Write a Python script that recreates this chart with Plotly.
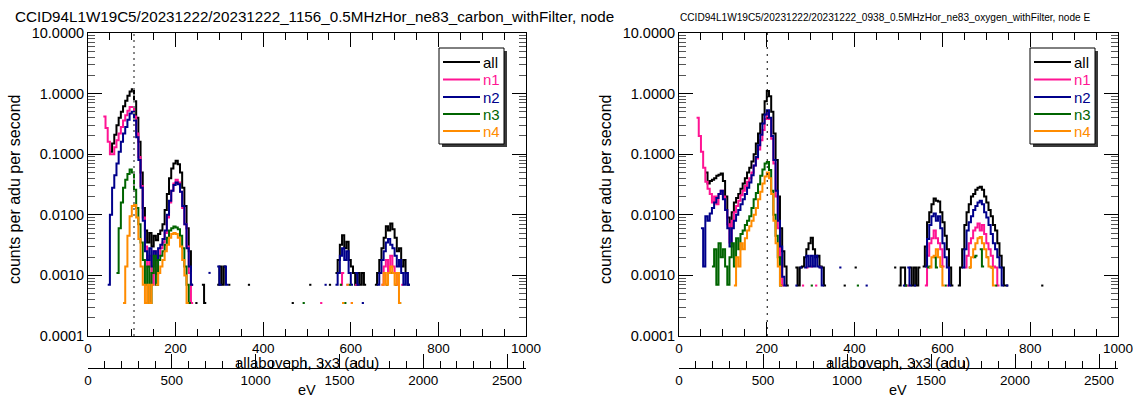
import plotly.graph_objects as go

W, H = 1133, 397
FONT = "Liberation Sans, Arial, Helvetica, sans-serif"

# ---------------- data ----------------
BIN = 5                 # histogram bin width (adu)
MAIN_START = 35         # left edge of first bin of the *_main arrays (adu)
EV_PER_ADU = 2.613      # gain used for the secondary eV axis
series_names = ["all", "n1", "n2", "n3", "n4"]
series_colors = ["#000000", "#ff1493", "#00008b", "#006400", "#ff8c00"]
ytick_vals = [1e-4, 1e-3, 1e-2, 1e-1, 1, 10]
ytick_text = ["0.0001", "0.0010", "0.0100", "0.1000", "1.0000", "10.0000"]
adu_ticks = [0, 200, 400, 600, 800, 1000]
ev_ticks = [0, 500, 1000, 1500, 2000, 2500]
carbon_line_adu = 105
oxygen_line_adu = 201

carbon_title = "CCID94L1W19C5/20231222/20231222_1156_0.5MHzHor_ne83_carbon_withFilter, node"
oxygen_title = "CCID94L1W19C5/20231222/20231222_0938_0.5MHzHor_ne83_oxygen_withFilter, node E"

# --- carbon (left panel), counts per adu per second, 45 bins from 35 adu ---
carbon_all_main = [0, 0, 0, 0.11, 0.15, 0.21, 0.30, 0.40, 0.50, 0.62, 0.76, 0.92, 1.08, 1.18,
                   0.75, 0.40, 0.16, 0.05, 0.013, 0.0055, 0.0035, 0.005, 0.003, 0.0045, 0.0038,
                   0.0048, 0.0055, 0.007, 0.012, 0.022, 0.04, 0.058, 0.07, 0.078, 0.068, 0.05,
                   0.028, 0.014, 0.006, 0.0025, 0.0007, 0, 0.00035, 0, 0]
carbon_n1_main = [0.42, 0.27, 0.16, 0.10, 0.10, 0.13, 0.17, 0.22, 0.28, 0.36, 0.44, 0.52, 0.60, 0.60,
                  0.42, 0.22, 0.09, 0.03, 0.009, 0.003, 0.0014, 0.0021, 0.0007, 0.0025, 0.00105,
                  0.0021, 0.0028, 0.0035, 0.005, 0.009, 0.016, 0.025, 0.033, 0.038, 0.034, 0.024,
                  0.013, 0.007, 0.003, 0.0011, 0.00035, 0, 0, 0, 0]
carbon_n2_main = [0, 0, 0.0007, 0.010, 0.028, 0.045, 0.07, 0.11, 0.16, 0.22, 0.28, 0.37, 0.47, 0.50,
                  0.36, 0.19, 0.08, 0.028, 0.008, 0.0025, 0.0018, 0.0028, 0.0014, 0.0025, 0.0018,
                  0.0028, 0.0032, 0.004, 0.0055, 0.010, 0.017, 0.025, 0.031, 0.034, 0.032, 0.024,
                  0.014, 0.007, 0.0028, 0.0014, 0.0007, 0, 0, 0, 0]
carbon_n3_main = [0, 0, 0, 0, 0, 0, 0.0011, 0.006, 0.016, 0.028, 0.038, 0.047, 0.056, 0.05, 0.026,
                  0.013, 0.007, 0.0035, 0.0018, 0.0007, 0.0014, 0.00035, 0.0011, 0.0021, 0.0007,
                  0.0018, 0.0021, 0.0025, 0.0032, 0.0042, 0.0055, 0.006, 0.0064, 0.0062, 0.0058,
                  0.0045, 0.0028, 0.0014, 0.0007, 0.00035, 0, 0, 0, 0, 0]
carbon_n4_main = [0, 0, 0, 0, 0, 0, 0, 0, 0, 0.00035, 0.0014, 0.0045, 0.0095, 0.014, 0.0145, 0.009,
                  0.004, 0.0014, 0.0007, 0.00035, 0.0007, 0.00035, 0.0007, 0, 0.0007, 0.0011,
                  0.0014, 0.0018, 0.0025, 0.0032, 0.0042, 0.0048, 0.005, 0.0048, 0.0042, 0.003,
                  0.0018, 0.001, 0.00035, 0, 0, 0, 0, 0, 0]

# sparse tails (bin centre adu, value)
carbon_all_tail_adu = [262.5, 267.5, 297.5, 302.5, 307.5, 312.5, 322.5, 367.5, 467.5, 507.5, 552.5,
                       567.5, 572.5, 577.5, 582.5, 587.5, 592.5, 597.5, 602.5, 607.5, 612.5, 617.5,
                       622.5, 627.5, 632.5, 657.5, 662.5, 667.5, 672.5, 677.5, 682.5, 687.5, 692.5,
                       697.5, 702.5, 707.5, 712.5, 717.5, 722.5, 727.5, 732.5]
carbon_all_tail_val = [0.0007, 0.00035, 0.0007, 0.0014, 0.0007, 0.0014, 0.0007, 0.0007, 0.00035,
                       0.0007, 0.0007, 0.0011, 0.0018, 0.0032, 0.0046, 0.0028, 0.0036, 0.0018,
                       0.0014, 0.0011, 0.0007, 0.0011, 0.0007, 0.0011, 0.0007, 0.0007, 0.0011,
                       0.0018, 0.0028, 0.0042, 0.0065, 0.0055, 0.0072, 0.0058, 0.0042, 0.0025,
                       0.0028, 0.0014, 0.0018, 0.0011, 0.0007]
carbon_n1_tail_adu = [532.5, 577.5, 582.5, 592.5, 602.5, 612.5, 672.5, 677.5, 682.5, 687.5, 692.5,
                      697.5, 702.5, 707.5, 717.5]
carbon_n1_tail_val = [0.00035, 0.0007, 0.0011, 0.0007, 0.00035, 0.0007, 0.0007, 0.0014, 0.0018,
                      0.0011, 0.0021, 0.0014, 0.0011, 0.0007, 0.0007]
carbon_n2_tail_adu = [277.5, 297.5, 302.5, 312.5, 317.5, 542.5, 567.5, 572.5, 577.5, 582.5, 587.5,
                      592.5, 597.5, 602.5, 612.5, 617.5, 627.5, 662.5, 667.5, 672.5, 677.5, 682.5,
                      687.5, 692.5, 697.5, 702.5, 707.5, 712.5, 717.5, 722.5, 727.5, 732.5]
carbon_n2_tail_val = [0.0011, 0.0014, 0.0007, 0.0014, 0.0007, 0.0007, 0.0007, 0.0011, 0.0021,
                      0.0028, 0.0018, 0.0025, 0.0011, 0.0007, 0.0011, 0.0007, 0.00035, 0.0007,
                      0.0011, 0.0018, 0.0025, 0.0035, 0.004, 0.0032, 0.0028, 0.0021, 0.0014,
                      0.0018, 0.0011, 0.0007, 0.0011, 0.0007]
carbon_n3_tail_adu = [492.5, 577.5, 587.5, 597.5, 682.5, 692.5, 702.5, 712.5]
carbon_n3_tail_val = [0.00035, 0.0007, 0.00035, 0.0007, 0.0007, 0.0011, 0.0007, 0.00035]
carbon_n4_tail_adu = [582.5, 592.5, 602.5, 672.5, 677.5, 682.5, 687.5, 692.5, 697.5, 702.5, 707.5,
                      712.5]
carbon_n4_tail_val = [0.00035, 0.0007, 0.00035, 0.0007, 0.0011, 0.0007, 0.0011, 0.0014, 0.0011,
                      0.0007, 0.0011, 0.00035]

# --- oxygen (right panel) ---
oxygen_all_main = [0, 0, 0, 0, 0, 0.05, 0.033, 0.036, 0.038, 0.04, 0.044, 0.046, 0.048, 0.036,
                   0.02, 0.009, 0.0062, 0.011, 0.016, 0.019, 0.022, 0.027, 0.033, 0.04, 0.05, 0.06,
                   0.076, 0.10, 0.15, 0.22, 0.32, 0.45, 0.75, 1.10, 0.90, 0.50, 0.22, 0.08, 0.02,
                   0.006, 0.0025, 0.0014, 0.00068, 0, 0]
oxygen_n1_main = [0, 0.40, 0.20, 0.11, 0.06, 0.035, 0.027, 0.022, 0.016, 0.02, 0.015, 0.022, 0.025,
                  0.02, 0.012, 0.007, 0.0035, 0.008, 0.011, 0.014, 0.017, 0.021, 0.025, 0.03, 0.035,
                  0.04, 0.05, 0.065, 0.085, 0.12, 0.17, 0.25, 0.38, 0.48, 0.38, 0.18, 0.07, 0.02,
                  0.006, 0.002, 0.00068, 0, 0, 0, 0]
oxygen_n2_main = [0, 0, 0, 0.006, 0.0014, 0.0095, 0.008, 0.0105, 0.013, 0.016, 0.019, 0.022, 0.025,
                  0.018, 0.012, 0.006, 0.003, 0.006, 0.008, 0.01, 0.012, 0.015, 0.018, 0.022, 0.028,
                  0.034, 0.045, 0.065, 0.09, 0.14, 0.21, 0.32, 0.45, 0.53, 0.40, 0.20, 0.08, 0.025,
                  0.008, 0.003, 0.00095, 0.00068, 0, 0, 0]
oxygen_n3_main = [0, 0, 0, 0, 0, 0, 0, 0, 0.0014, 0.0027, 0.0007, 0.0034, 0.002, 0.0027, 0.0014,
                  0.0007, 0.002, 0.0034, 0.0014, 0.0041, 0.0027, 0.0048, 0.0055, 0.0068, 0.008,
                  0.0095, 0.013, 0.018, 0.023, 0.032, 0.044, 0.056, 0.07, 0.074, 0.055, 0.025, 0.01,
                  0.0045, 0.002, 0.00068, 0, 0, 0, 0, 0]
oxygen_n4_main = [0, 0, 0, 0, 0, 0, 0, 0, 0, 0, 0, 0, 0, 0, 0, 0, 0, 0, 0.00068, 0.002, 0.0014,
                  0.0034, 0.0027, 0.0041, 0.0055, 0.0065, 0.008, 0.01, 0.013, 0.018, 0.024, 0.033,
                  0.043, 0.05, 0.04, 0.022, 0.008, 0.0034, 0.0014, 0.00068, 0, 0, 0, 0, 0]

oxygen_all_tail_adu = [267.5, 272.5, 277.5, 282.5, 287.5, 292.5, 297.5, 302.5, 307.5, 312.5, 317.5,
                       322.5, 327.5, 332.5, 377.5, 402.5, 492.5, 502.5, 507.5, 512.5, 517.5, 527.5,
                       532.5, 537.5, 542.5, 547.5, 557.5, 562.5, 567.5, 572.5, 577.5, 582.5, 587.5,
                       592.5, 597.5, 602.5, 607.5, 612.5, 617.5, 622.5, 637.5, 642.5, 647.5, 652.5,
                       657.5, 662.5, 667.5, 672.5, 677.5, 682.5, 687.5, 692.5, 697.5, 702.5, 707.5,
                       712.5, 717.5, 722.5, 727.5, 732.5, 737.5, 742.5, 747.5, 827.5]
oxygen_all_tail_val = [0.00135, 0.00068, 0.00135, 0.0014, 0.002, 0.0027, 0.0034, 0.0042, 0.0027,
                       0.002, 0.0021, 0.0014, 0.00135, 0.00068, 0.00068, 0.00135, 0.00135, 0.00068,
                       0.00135, 0.00135, 0.00068, 0.00135, 0.00068, 0.00135, 0.00068, 0.00135,
                       0.0014, 0.003, 0.0075, 0.011, 0.015, 0.0186, 0.017, 0.0165, 0.011, 0.0075,
                       0.0045, 0.0027, 0.00135, 0.00068, 0.00068, 0.00135, 0.0027, 0.0068, 0.011,
                       0.015, 0.02, 0.022, 0.026, 0.028, 0.029, 0.026, 0.02, 0.016, 0.012, 0.0095,
                       0.0068, 0.0055, 0.0034, 0.0021, 0.00135, 0.00068, 0.00068, 0.00068]
oxygen_n1_tail_adu = [282.5, 292.5, 302.5, 312.5, 322.5, 522.5, 562.5, 567.5, 572.5, 577.5, 582.5,
                      587.5, 592.5, 597.5, 602.5, 612.5, 652.5, 657.5, 662.5, 667.5, 672.5, 677.5,
                      682.5, 687.5, 692.5, 697.5, 702.5, 707.5, 712.5, 717.5, 722.5, 727.5]
oxygen_n1_tail_val = [0.00068, 0.00135, 0.0014, 0.00068, 0.00135, 0.00068, 0.00068, 0.0021, 0.0034,
                      0.0041, 0.0055, 0.0041, 0.0034, 0.0027, 0.0014, 0.00068, 0.00135, 0.0021,
                      0.0034, 0.0041, 0.0055, 0.0062, 0.0072, 0.0055, 0.0068, 0.0048, 0.0034,
                      0.0027, 0.0021, 0.0014, 0.00135, 0.00068]
oxygen_n2_tail_adu = [267.5, 277.5, 287.5, 292.5, 297.5, 302.5, 307.5, 312.5, 317.5, 322.5, 327.5,
                      367.5, 427.5, 512.5, 522.5, 527.5, 537.5, 562.5, 567.5, 572.5, 577.5, 582.5,
                      587.5, 592.5, 597.5, 602.5, 607.5, 612.5, 617.5, 647.5, 652.5, 657.5, 662.5,
                      667.5, 672.5, 677.5, 682.5, 687.5, 692.5, 697.5, 702.5, 707.5, 712.5, 717.5,
                      722.5, 727.5, 732.5, 737.5, 747.5]
oxygen_n2_tail_val = [0.00068, 0.00135, 0.00135, 0.0021, 0.0014, 0.0021, 0.0014, 0.0021, 0.0014,
                      0.00135, 0.00068, 0.00135, 0.00068, 0.00068, 0.00135, 0.00068, 0.00068,
                      0.0014, 0.004, 0.0068, 0.0095, 0.0105, 0.008, 0.0095, 0.006, 0.0034, 0.002,
                      0.00135, 0.00068, 0.00135, 0.0027, 0.0055, 0.0075, 0.0095, 0.012, 0.014,
                      0.016, 0.017, 0.015, 0.011, 0.009, 0.0068, 0.0048, 0.0034, 0.0027, 0.002,
                      0.00135, 0.00068, 0.00068]
oxygen_n3_tail_adu = [302.5, 407.5, 517.5, 567.5, 572.5, 582.5, 587.5, 597.5, 607.5, 662.5, 672.5,
                      677.5, 687.5, 692.5, 702.5, 712.5, 722.5]
oxygen_n3_tail_val = [0.00068, 0.00068, 0.00068, 0.00135, 0.0014, 0.002, 0.00135, 0.0014, 0.00068,
                      0.00135, 0.002, 0.0021, 0.0027, 0.0014, 0.002, 0.00135, 0.00068]
oxygen_n4_tail_adu = [572.5, 577.5, 582.5, 587.5, 592.5, 597.5, 602.5, 662.5, 667.5, 672.5, 677.5,
                      682.5, 687.5, 692.5, 697.5, 702.5, 707.5, 712.5, 717.5]
oxygen_n4_tail_val = [0.00135, 0.002, 0.0021, 0.0027, 0.002, 0.0014, 0.00068, 0.00135, 0.002,
                      0.0027, 0.0034, 0.0041, 0.0043, 0.0034, 0.0027, 0.002, 0.0014, 0.00135,
                      0.00068]

carbon_data = [
    (carbon_all_main, carbon_all_tail_adu, carbon_all_tail_val),
    (carbon_n1_main, carbon_n1_tail_adu, carbon_n1_tail_val),
    (carbon_n2_main, carbon_n2_tail_adu, carbon_n2_tail_val),
    (carbon_n3_main, carbon_n3_tail_adu, carbon_n3_tail_val),
    (carbon_n4_main, carbon_n4_tail_adu, carbon_n4_tail_val),
]
oxygen_data = [
    (oxygen_all_main, oxygen_all_tail_adu, oxygen_all_tail_val),
    (oxygen_n1_main, oxygen_n1_tail_adu, oxygen_n1_tail_val),
    (oxygen_n2_main, oxygen_n2_tail_adu, oxygen_n2_tail_val),
    (oxygen_n3_main, oxygen_n3_tail_adu, oxygen_n3_tail_val),
    (oxygen_n4_main, oxygen_n4_tail_adu, oxygen_n4_tail_val),
]


def steps(main, tail_adu, tail_val):
    """histogram step outline; empty bins break the line"""
    assert len(main) == 45 and len(tail_adu) == len(tail_val)
    vals = {}
    for i, v in enumerate(main):
        if v > 0:
            vals[MAIN_START + BIN * i + BIN / 2] = v
    for c, v in zip(tail_adu, tail_val):
        vals[c] = v
    cs = sorted(vals)
    xs, ys = [], []
    for j, c in enumerate(cs):
        v = vals[c]
        xs += [c - BIN / 2, c + BIN / 2]
        ys += [v, v]
        if j + 1 == len(cs) or abs(cs[j + 1] - c - BIN) > 1e-6:
            xs.append(None)
            ys.append(None)
    return xs, ys


def px(x):
    return x / W


def py(y):
    return 1 - y / H


fig = go.Figure()
panels = [("x", "y", carbon_data), ("x2", "y2", oxygen_data)]
for xa, ya, data in panels:
    for name, col, (m, ta, tv) in zip(series_names, series_colors, data):
        xs, ys = steps(m, ta, tv)
        fig.add_trace(go.Scatter(
            x=xs, y=ys, xaxis=xa, yaxis=ya, mode="lines", connectgaps=False,
            line=dict(color=col, width=2), name=name, showlegend=False, hoverinfo="skip"))
# dummy traces so the eV axes exist
fig.add_trace(go.Scatter(x=[None], y=[None], xaxis="x3", yaxis="y", showlegend=False))
fig.add_trace(go.Scatter(x=[None], y=[None], xaxis="x4", yaxis="y2", showlegend=False))

XTICKFONT = dict(size=13.5)
YTICKFONT = dict(size=14.5)
left_dom = [px(88), px(526)]
right_dom = [px(679), px(1118)]
y_dom = [py(336), py(33)]
minor_y = [m * 10.0 ** e for e in range(-4, 1) for m in range(2, 10)]

common_x = dict(range=[0, 1000], showline=True, linecolor="black", linewidth=1, mirror="ticks",
                ticks="inside", ticklen=14, tickcolor="black", tickvals=adu_ticks,
                minor=dict(ticks="inside", ticklen=7, dtick=50, tickcolor="black"),
                showgrid=False, zeroline=False, tickfont=XTICKFONT, automargin=False,
                ticklabeloverflow="allow")
common_y = dict(type="log", range=[-4, 1], showline=True, linecolor="black", linewidth=1,
                mirror="ticks", ticks="inside", ticklen=14, tickcolor="black",
                tickvals=ytick_vals, ticktext=ytick_text,
                minor=dict(ticks="inside", ticklen=7, tickmode="array", tickvals=minor_y,
                           tickcolor="#555"),
                showgrid=False, zeroline=False, tickfont=YTICKFONT, automargin=False,
                ticklabeloverflow="allow")
common_ev = dict(range=[0, 1000 * EV_PER_ADU], showline=True, linecolor="black", linewidth=1,
                 ticks="inside", ticklen=14, tickcolor="black", tickvals=ev_ticks,
                 minor=dict(ticks="inside", ticklen=7, dtick=100, tickcolor="black"),
                 showgrid=False, zeroline=False, anchor="free", position=py(368), side="bottom",
                 tickfont=XTICKFONT, automargin=False, ticklabeloverflow="allow")

fig.update_layout(
    width=W, height=H, margin=dict(l=0, r=0, t=0, b=0, pad=0, autoexpand=False),
    paper_bgcolor="white", plot_bgcolor="white", showlegend=False,
    font=dict(family=FONT, size=14, color="black"),
    xaxis=dict(domain=left_dom, anchor="y", **common_x),
    yaxis=dict(domain=y_dom, anchor="x", **common_y),
    xaxis2=dict(domain=right_dom, anchor="y2", **common_x),
    yaxis2=dict(domain=y_dom, anchor="x2", **common_y),
    xaxis3=dict(domain=left_dom, overlaying="x", **common_ev),
    xaxis4=dict(domain=right_dom, overlaying="x2", **common_ev),
)

# reference lines
fig.add_shape(type="line", xref="x", yref="y domain", x0=carbon_line_adu, x1=carbon_line_adu,
              y0=0, y1=1, line=dict(color="#888888", width=2, dash="2px,4px"))
fig.add_shape(type="line", xref="x2", yref="y2 domain", x0=oxygen_line_adu, x1=oxygen_line_adu,
              y0=0, y1=1, line=dict(color="black", width=1, dash="2px,5px"))

ann = []
# legends (box with drop shadow, line samples, coloured labels)
row_y = [62, 79.5, 97, 114, 131]
for lx in (439, 1030):
    fig.add_shape(type="rect", xref="paper", yref="paper", x0=px(lx + 3), x1=px(lx + 68),
                  y0=py(147), y1=py(51), fillcolor="#3a3a3a", line=dict(width=0), layer="above")
    fig.add_shape(type="rect", xref="paper", yref="paper", x0=px(lx), x1=px(lx + 65),
                  y0=py(144), y1=py(48), fillcolor="white", line=dict(color="black", width=1),
                  layer="above")
    for name, col, ry in zip(series_names, series_colors, row_y):
        fig.add_shape(type="line", xref="paper", yref="paper", x0=px(lx + 4), x1=px(lx + 41),
                      y0=py(ry), y1=py(ry), line=dict(color=col, width=2), layer="above")
        ann.append(dict(text=name, x=px(lx + 43), y=py(ry), xanchor="left", yanchor="middle",
                        font=dict(size=15, color=col)))

ann.append(dict(text=carbon_title, x=px(14), y=py(16), xanchor="left", yanchor="middle",
                font=dict(size=15.2)))
ann.append(dict(text=oxygen_title, x=px(679), y=py(17), xanchor="left", yanchor="middle",
                font=dict(size=10.1)))
for off in (0, 591):
    ann.append(dict(text="counts per adu per second", x=px(14 + off), y=py(190), textangle=-90,
                    xanchor="center", yanchor="middle", font=dict(size=16)))
    ann.append(dict(text="allaboveph, 3x3 (adu)", x=px(307 + off), y=py(362), xanchor="center",
                    yanchor="middle", font=dict(size=15)))
    ann.append(dict(text="eV", x=px(307 + off), y=py(390), xanchor="center", yanchor="middle",
                    font=dict(size=14.5)))
for a in ann:
    a.update(xref="paper", yref="paper", showarrow=False, borderpad=0)
fig.update_layout(annotations=ann)

fig.write_html("out.html")
